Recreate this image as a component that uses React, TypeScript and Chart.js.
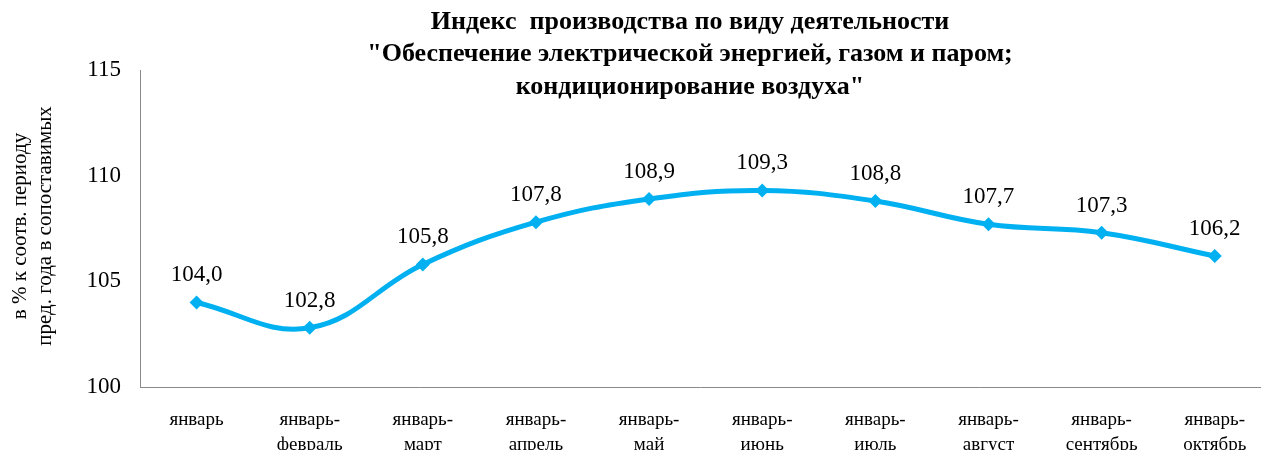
import React, { useEffect, useRef } from "react";
import { Chart, registerables } from "chart.js";

Chart.register(...registerables);

const categories: string[][] = [
  ["январь"],
  ["январь-", "февраль"],
  ["январь-", "март"],
  ["январь-", "апрель"],
  ["январь-", "май"],
  ["январь-", "июнь"],
  ["январь-", "июль"],
  ["январь-", "август"],
  ["январь-", "сентябрь"],
  ["январь-", "октябрь"],
];
const values: number[] = [104.0, 102.8, 105.8, 107.8, 108.9, 109.3, 108.8, 107.7, 107.3, 106.2];
const yTicks: number[] = [100, 105, 110, 115];
const titleLines: string[] = [
  "Индекс  производства по виду деятельности",
  "\"Обеспечение электрической энергией, газом и паром;",
  "кондиционирование воздуха\"",
];
const yTitleLines: string[] = ["в % к соотв. периоду", "пред. года в сопоставимых"];

const LINE_COLOR = "#00B0F0";
const AXIS_COLOR = "#898989";
const SERIF = "'Liberation Serif', 'Times New Roman', serif";

const extrasPlugin = {
  id: "extras",
  afterDatasetsDraw(chart: any) {
    const ctx = chart.ctx;
    const meta = chart.getDatasetMeta(0);
    ctx.save();
    ctx.fillStyle = "#000";
    ctx.font = `23px ${SERIF}`;
    ctx.textAlign = "center";
    ctx.textBaseline = "alphabetic";
    meta.data.forEach((pt: any, i: number) => {
      const txt = values[i].toFixed(1).replace(".", ",");
      ctx.fillText(txt, pt.x, pt.y - 21);
    });
    ctx.restore();
  },
  afterDraw(chart: any) {
    const ctx = chart.ctx;
    ctx.save();
    ctx.fillStyle = "#000";
    // title
    ctx.font = `bold 26px ${SERIF}`;
    ctx.textAlign = "center";
    ctx.textBaseline = "middle";
    const cx = 690;
    titleLines.forEach((l, i) => {
      ctx.fillText(l, cx, 22 + i * 32.5);
    });
    // y title
    ctx.font = `21px ${SERIF}`;
    const cy = 226;
    const xs = [20, 45];
    yTitleLines.forEach((l, i) => {
      ctx.save();
      ctx.translate(xs[i], cy);
      ctx.rotate(-Math.PI / 2);
      ctx.fillText(l, 0, 0);
      ctx.restore();
    });
    ctx.restore();
  },
};

export default function App() {
  const ref = useRef<HTMLCanvasElement | null>(null);
  useEffect(() => {
    if (!ref.current) return;
    const chart = new Chart(ref.current, {
      type: "line",
      data: {
        datasets: [
          {
            data: values.map((v, i) => ({ x: i, y: v })),
            borderColor: LINE_COLOR,
            backgroundColor: LINE_COLOR,
            borderWidth: 5,
            tension: 0.4,
            pointStyle: "rectRot",
            pointRadius: 7,
            pointBorderWidth: 0,
            pointBackgroundColor: LINE_COLOR,
            fill: false,
          },
        ],
      },
      options: {
        animation: false,
        responsive: false,
        maintainAspectRatio: false,
        layout: { padding: { top: 70, right: 2, left: 0, bottom: 0 } },
        plugins: {
          legend: { display: false },
          title: { display: false },
          tooltip: { enabled: false },
        },
        scales: {
          x: {
            type: "linear",
            min: -0.5,
            max: 9.4,
            afterBuildTicks: (scale: any) => {
              scale.ticks = categories.map((_, i) => ({ value: i }));
            },
            afterFit: (scale: any) => {
              scale.height = 63;
            },
            grid: { display: false, drawTicks: false },
            border: { display: true, color: AXIS_COLOR, width: 1 },
            ticks: {
              autoSkip: false,
              maxRotation: 0,
              padding: 20,
              color: "#000",
              font: { family: SERIF, size: 19, lineHeight: 1.35 },
              callback: (v: any) => categories[Math.round(Number(v))] ?? "",
            },
          },
          y: {
            min: 100,
            max: 115,
            afterBuildTicks: (scale: any) => {
              scale.ticks = yTicks.map((v) => ({ value: v }));
            },
            afterFit: (scale: any) => {
              scale.width = 140;
            },
            grid: { display: false, drawTicks: false },
            border: { display: true, color: AXIS_COLOR, width: 1 },
            ticks: {
              padding: 19,
              color: "#000",
              font: { family: SERIF, size: 23 },
            },
          },
        },
      },
      plugins: [extrasPlugin],
    } as any);
    return () => chart.destroy();
  }, []);
  return (
    <div style={{ position: "fixed", left: 0, top: 0, width: 1267, height: 450, background: "#fff" }}>
      <canvas ref={ref} width={1267} height={450} style={{ width: 1267, height: 450, display: "block" }} />
    </div>
  );
}
